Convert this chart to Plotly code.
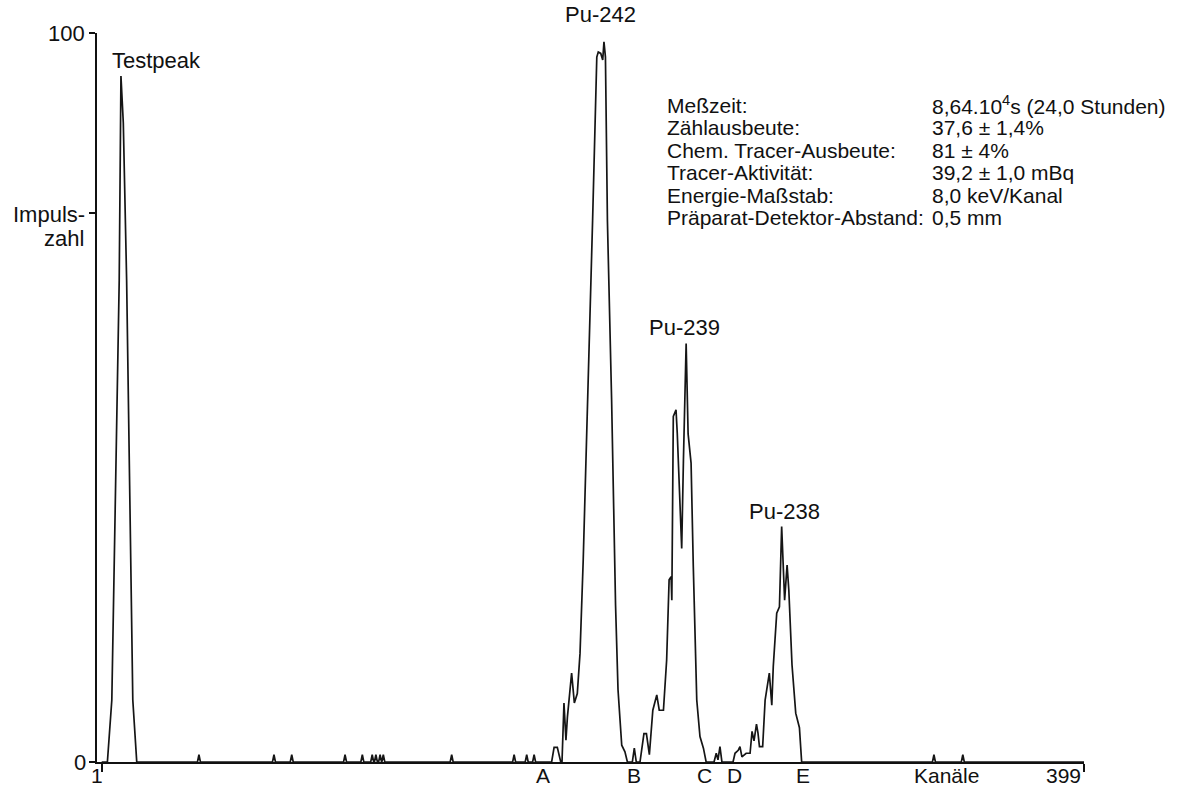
import plotly.graph_objects as go

# ---- data (channel, counts) ----
test_ch = [3.3, 5.1, 8.1, 8.8, 9.75, 11.1, 13.6, 15.2]
test_ct = [0, 8.5, 66.1, 94.1, 87.7, 66.1, 8.5, 0]

single_count_channels = [40.4, 70.8, 78.0, 99.6, 106.6, 110.6, 112.1, 113.8, 115.1,
                         142.8, 168.1, 173.2, 176.2, 338.2, 349.9]

pu242_ch = [183.3, 184.3, 185.6, 187.0, 187.5, 188.3, 189.1, 189.7, 191.4, 192.5, 193.7,
            194.8, 196.1, 198.0, 199.9, 201.6, 202.2, 203.2, 204.0, 204.5, 205.1, 205.9,
            206.7, 207.6, 209.2, 210.2, 211.7, 213.0, 214.0]
pu242_ct = [0, 2.0, 2.0, 0, 0, 8.1, 3.0, 6.2, 12.2, 8.1, 9.4,
            14.9, 27.7, 49.7, 74.3, 96.7, 97.4, 97.2, 96.3, 98.8, 96.7, 74.3,
            63.4, 49.7, 21.5, 9.9, 2.3, 1.4, 0]

pu239_ch = [216.0, 216.8, 217.6, 219.1, 220.7, 221.7, 222.9, 224.3, 225.9, 226.9, 228.6,
            229.9, 230.9, 231.7, 232.0, 232.6, 233.7, 234.2, 235.0, 236.0, 236.7, 237.8,
            238.6, 239.8, 240.7, 242.1, 243.4, 244.8, 245.9]
pu239_ct = [0, 1.9, 0, 0, 3.9, 3.9, 1.0, 7.1, 9.2, 7.1, 7.1,
            14.0, 25.0, 25.4, 22.2, 47.4, 48.3, 45.1, 37.3, 29.3, 41.4, 57.4,
            45.0, 41.0, 26.8, 8.5, 3.5, 1.9, 0]

pu238_ch = [249.1, 250.0, 250.7, 251.5, 252.3, 256.8, 257.6, 258.9, 259.6, 260.4, 261.3,
            262.1, 263.7, 264.5, 265.3, 266.3, 266.9, 267.5, 268.8, 269.8, 271.5, 272.5,
            273.1, 274.5, 275.6, 276.5, 277.7, 278.7, 279.4, 280.7, 282.2, 283.7, 284.6]
pu238_ct = [0, 1.2, 0.3, 2.1, 0, 0, 1.2, 1.6, 2.1, 0.7, 1.0,
            1.2, 1.2, 4.2, 2.9, 5.2, 4.0, 2.1, 2.1, 8.5, 12.2, 7.8,
            13.1, 20.4, 21.3, 32.3, 22.2, 27.0, 23.6, 13.3, 6.7, 4.7, 0]

region_labels = ["A", "B", "C", "D", "E"]
region_channels = [179.8, 216.6, 245.2, 257.5, 285.1]

info_keys = ["Meßzeit:", "Zählausbeute:", "Chem. Tracer-Ausbeute:", "Tracer-Aktivität:",
             "Energie-Maßstab:", "Präparat-Detektor-Abstand:"]
info_vals = ["8,64.10<sup>4</sup>s (24,0 Stunden)", "37,6 ± 1,4%", "81 ± 4%",
             "39,2 ± 1,0 mBq", "8,0 keV/Kanal", "0,5 mm"]

# ---- assemble spectrum ----
pts = [(1, 0), (399, 0)]
pts += list(zip(test_ch, test_ct))
for c in single_count_channels:
    pts += [(c - 0.6, 0), (c, 1), (c + 0.6, 0)]
pts += list(zip(pu242_ch, pu242_ct))
pts += list(zip(pu239_ch, pu239_ct))
pts += list(zip(pu238_ch, pu238_ct))
pts.sort(key=lambda p: p[0])
xs = [p[0] for p in pts]
ys = [p[1] for p in pts]

FONT = "Liberation Sans, Arial, Helvetica, sans-serif"
FS_LAB = 22
FS_AXIS = 21
FS_INFO = 21
INK = "#111111"

fig = go.Figure()
fig.add_trace(go.Scatter(x=xs, y=ys, mode="lines",
                         line=dict(color="#151515", width=1.7),
                         hoverinfo="skip", showlegend=False))

L, R, T, B = 97, 1084, 33, 762
W, H = R - L, B - T


def px(x):
    return (x - L) / W


def py(y):
    return (B - y) / H


ann = []


def add(text, x, y, xa="center", ya="middle", xref="paper", yref="paper", size=FS_LAB):
    ann.append(dict(text=text, x=x, y=y, xref=xref, yref=yref, xanchor=xa, yanchor=ya,
                    showarrow=False, borderpad=0,
                    font=dict(family=FONT, size=size, color=INK)))


# axis labels
add("100", px(86), py(33), xa="right")
add("Impuls-", px(86), py(214), xa="right")
add("zahl", px(85), py(239), xa="right")
add("0", px(87), py(762), xa="right")
BOT = py(788)
add("1", px(97), BOT, ya="bottom", size=FS_AXIS)
for lab, ch in zip(region_labels, region_channels):
    add(lab, ch, BOT, xref="x", ya="bottom", size=FS_AXIS)
add("Kanäle", px(946), BOT, ya="bottom", size=FS_AXIS)
add("399", px(1063), BOT, ya="bottom", size=FS_AXIS)

# peak labels
add("Testpeak", px(111), py(60), xa="left")
add("Pu-242", px(600), py(15))
add("Pu-239", px(684), py(327))
add("Pu-238", px(784), py(512))

# info block
for i, (k, v) in enumerate(zip(info_keys, info_vals)):
    yy = 105 + 22.5 * i
    add(k, px(666), py(yy), xa="left", size=FS_INFO)
    add(v, px(931), py(yy), xa="left", size=FS_INFO)

fig.update_layout(
    width=1193, height=789,
    margin=dict(l=L, r=1193 - R, t=T, b=789 - B, pad=0),
    paper_bgcolor="white", plot_bgcolor="white",
    showlegend=False,
    annotations=ann,
    xaxis=dict(range=[1 + (L - 101.7) / 2.468, 399], showgrid=False, zeroline=False,
               showline=True, linecolor=INK, linewidth=1.5,
               ticks="outside", tickvals=[1, 399], ticklen=8, tickwidth=1.5,
               tickcolor=INK, showticklabels=False, fixedrange=True),
    yaxis=dict(range=[0, 100], showgrid=False, zeroline=False,
               showline=True, linecolor=INK, linewidth=1.5,
               ticks="outside", tickvals=[0, 75.3, 100], ticklen=6, tickwidth=1.5,
               tickcolor=INK, showticklabels=False, fixedrange=True),
)

fig.write_html("out.html", config={"displayModeBar": False},
               post_script="document.body.style.margin='0';document.body.style.overflow='hidden';")
